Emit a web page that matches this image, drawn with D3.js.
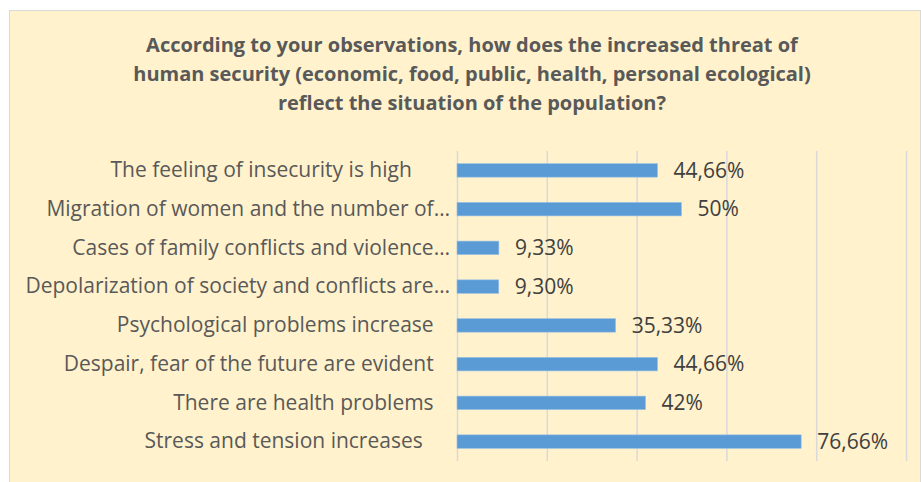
<!DOCTYPE html>
<html>
<head>
<meta charset="utf-8">
<script src="https://cdn.jsdelivr.net/npm/d3@7"></script>
<style>
  html, body { margin: 0; padding: 0; background: #ffffff; }
  svg { display: block; }
  text { white-space: pre; }
</style>
</head>
<body>
<svg id="chart" width="921" height="482"></svg>
<script>
// Survey answers, listed top to bottom
const categories = [
  "The feeling of insecurity is high       ",
  "Migration of women and the number of…",
  "Cases of family conflicts and violence…",
  "Depolarization of society and conflicts are…",
  "Psychological problems increase   ",
  "Despair, fear of the future are evident   ",
  "There are health problems   ",
  "Stress and tension increases     "
];
const values = [44.66, 50, 9.33, 9.30, 35.33, 44.66, 42, 76.66];
const valueLabels = ["44,66%", "50%", "9,33%", "9,30%", "35,33%", "44,66%", "42%", "76,66%"];
const xTicks = [0, 20, 40, 60, 80, 100];
const titleLines = [
  "According to your observations, how does the increased threat of",
  "human security (economic, food, public, health, personal ecological)",
  "reflect the situation of the population?"
];

const svg = d3.select("#chart");
const W = 921, H = 482;
const font = "'Open Sans', Lato, sans-serif";

// chart area
svg.append("rect")
  .attr("x", 9.5).attr("y", 10.5)
  .attr("width", W - 10).attr("height", H - 10)
  .attr("fill", "#FFF2CC")
  .attr("stroke", "#D9D9D9").attr("stroke-width", 1);

// title
svg.append("g").selectAll("text")
  .data(titleLines)
  .join("text")
  .attr("x", 472)
  .attr("y", (d, i) => 52 + i * 29)
  .attr("text-anchor", "middle")
  .attr("font-family", font)
  .attr("font-weight", "bold")
  .attr("font-size", 20)
  .attr("fill", "#595959")
  .text(d => d);

const plot = { left: 457, right: 906, top: 151, bottom: 461 };

const x = d3.scaleLinear().domain([0, 100]).range([plot.left, plot.right]);
const y = d3.scaleBand().domain(categories).range([plot.top, plot.bottom]).paddingInner(0.65).paddingOuter(0.325);

// vertical gridlines
const grid = d3.axisBottom(x).tickValues(xTicks).tickSize(-(plot.bottom - plot.top)).tickFormat("");
svg.append("g")
  .attr("transform", `translate(0,${plot.bottom})`)
  .call(grid)
  .call(g => g.select(".domain").remove())
  .call(g => g.selectAll(".tick line").attr("stroke", "#D9D9D9").attr("stroke-width", 1.5));

// bars
svg.append("g").selectAll("rect")
  .data(values)
  .join("rect")
  .attr("x", x(0))
  .attr("y", (d, i) => y(categories[i]))
  .attr("width", d => x(d) - x(0))
  .attr("height", y.bandwidth())
  .attr("fill", "#5B9BD5")
  .attr("stroke", "#9DC3E6").attr("stroke-width", 0.6);

// category axis
const yAxis = d3.axisLeft(y).tickSize(0).tickPadding(4);
svg.append("g")
  .attr("transform", `translate(${plot.left - 3},0)`)
  .call(yAxis)
  .call(g => g.select(".domain").remove())
  .call(g => g.selectAll("text")
    .attr("font-family", font)
    .attr("font-size", 21)
    .attr("fill", "#595959"));

// value labels
svg.append("g").selectAll("text")
  .data(values)
  .join("text")
  .attr("x", d => x(d) + 16)
  .attr("y", (d, i) => y(categories[i]) + y.bandwidth() / 2)
  .attr("dy", "0.35em")
  .attr("font-family", font)
  .attr("font-size", 21)
  .attr("fill", "#404040")
  .text((d, i) => valueLabels[i]);
</script>
</body>
</html>
